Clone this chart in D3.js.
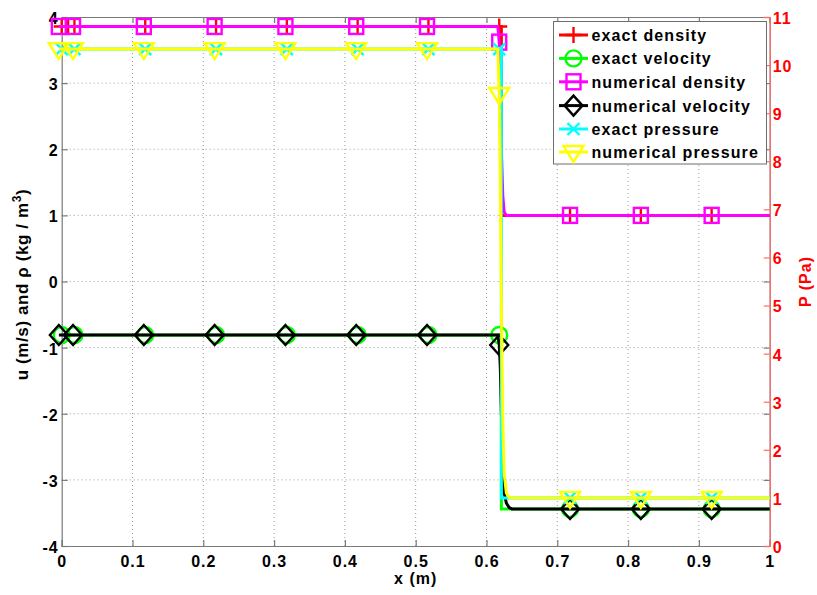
<!DOCTYPE html>
<html>
<head>
<meta charset="utf-8">
<script src="https://cdn.jsdelivr.net/npm/d3@7"></script>
<style>
  html, body { margin: 0; padding: 0; background: #fff; }
  svg { display: block; font-family: "Liberation Sans", Arial, sans-serif; font-weight: bold; }
</style>
</head>
<body>
<svg id="chart" width="817" height="595"></svg>
<script>
// Axis ticks
const xTicks = [0, 0.1, 0.2, 0.3, 0.4, 0.5, 0.6, 0.7, 0.8, 0.9, 1];
const xTickLabels = ["0", "0.1", "0.2", "0.3", "0.4", "0.5", "0.6", "0.7", "0.8", "0.9", "1"];
const yLeftTicks = [-4, -3, -2, -1, 0, 1, 2, 3, 4];
const yRightTicks = [0, 1, 2, 3, 4, 5, 6, 7, 8, 9, 10, 11];

// Exact solution (single shock)
const exactX = [0, 0.621, 0.621, 1];
const exactDensity = [3.857, 3.857, 1.0, 1.0];
const exactVelocity = [-0.81, -0.81, -3.44, -3.44];
const exactPressure = [10.333, 10.333, 1.0, 1.0];

// Numerical solution (shock smeared over a few cells)
const numX = [-0.004, 0.616, 0.618, 0.6195, 0.621, 0.623, 0.625, 0.628, 0.632, 0.636, 1];
const numDensity = [3.857, 3.857, 3.62, 3.0, 2.0, 1.3, 1.05, 1.0, 1.0, 1.0, 1.0];
const numVelocity = [-0.81, -0.81, -0.96, -1.3, -2.0, -2.8, -3.2, -3.35, -3.42, -3.44, -3.44];
const numPressure = [10.333, 10.333, 9.4, 7.5, 5.0, 2.6, 1.5, 1.1, 1.01, 1.0, 1.0];

// Marker locations along x
const exactDensityMarkX = [0, 0.009, 0.018, 0.118, 0.218, 0.318, 0.418, 0.518, 0.618, 0.718, 0.818, 0.918];
const exactMarkX = [0, 0.018, 0.118, 0.218, 0.318, 0.418, 0.518, 0.618, 0.718, 0.818, 0.918];
const numMarkX = [-0.004, 0.016, 0.116, 0.216, 0.316, 0.416, 0.516, 0.618, 0.718, 0.818, 0.918];

const svg = d3.select("#chart");
const M = { left: 61.7, right: 769.7, top: 17, bottom: 546 };

const x = d3.scaleLinear().domain([0, 1]).range([M.left, M.right]);
const yL = d3.scaleLinear().domain([-4, 4]).range([M.bottom, M.top]);
const yR = d3.scaleLinear().domain([0, 11]).range([M.bottom, M.top]);

const axisGray = "#7a7a7a";
const gridGray = "#9a9a9a";

// Grid
const grid = svg.append("g");
xTicks.slice(1, -1).forEach(t => {
  grid.append("line").attr("x1", x(t)).attr("x2", x(t)).attr("y1", M.top).attr("y2", M.bottom)
    .attr("stroke", gridGray).attr("stroke-width", 1).attr("stroke-dasharray", "1,3");
});
yLeftTicks.slice(1, -1).forEach(t => {
  grid.append("line").attr("x1", M.left).attr("x2", M.right).attr("y1", yL(t)).attr("y2", yL(t))
    .attr("stroke", gridGray).attr("stroke-width", 1).attr("stroke-dasharray", "1,3");
});

// Axes
const tickLen = 6;
const bottomAxis = d3.axisBottom(x).tickValues(xTicks).tickSize(-tickLen).tickPadding(10)
  .tickFormat((d, i) => xTickLabels[i]);
const topAxis = d3.axisTop(x).tickValues(xTicks).tickSize(-tickLen).tickFormat("");
const leftAxis = d3.axisLeft(yL).tickValues(yLeftTicks).tickSize(-tickLen).tickPadding(3)
  .tickFormat(d => String(d));
const leftMirror = d3.axisRight(yL).tickValues(yLeftTicks).tickSize(-tickLen).tickFormat("");
const rightAxis = d3.axisRight(yR).tickValues(yRightTicks).tickSize(-tickLen).tickPadding(3)
  .tickFormat(d => String(d));

function styleAxis(g, color, textColor) {
  g.select(".domain").attr("stroke", color).attr("stroke-width", 1.2);
  g.selectAll(".tick line").attr("stroke", color).attr("stroke-width", 1.2);
  g.selectAll(".tick text").attr("fill", textColor).attr("font-size", 16)
    .attr("font-weight", "bold").attr("letter-spacing", 1)
    .attr("font-family", "'Liberation Sans', Arial, sans-serif");
}

svg.append("g").attr("transform", `translate(0,${M.bottom})`).call(bottomAxis)
  .call(g => styleAxis(g, axisGray, "#000"));
svg.append("g").attr("transform", `translate(0,${M.top})`).call(topAxis)
  .call(g => styleAxis(g, axisGray, "#000"));
svg.append("g").attr("transform", `translate(${M.left},0)`).call(leftAxis)
  .call(g => styleAxis(g, axisGray, "#000"))
  .call(g => g.selectAll(".tick text").attr("dy", "0.4em"));
svg.append("g").attr("transform", `translate(${M.right},0)`).call(leftMirror)
  .call(g => styleAxis(g, axisGray, "#000"));
svg.append("g").attr("transform", `translate(${M.right},0)`).call(rightAxis)
  .call(g => styleAxis(g, "#ff6a6a", "#ff0000"))
  .call(g => g.selectAll(".tick text").attr("dy", "0.4em"));

// Axis labels
svg.append("text").attr("x", (M.left + M.right) / 2).attr("y", 584)
  .attr("text-anchor", "middle").attr("font-size", 16).attr("letter-spacing", 1)
  .attr("fill", "#000").text("x (m)");

const yLab = svg.append("text")
  .attr("transform", `translate(28,${(M.top + M.bottom) / 2 + 3}) rotate(-90)`)
  .attr("text-anchor", "middle").attr("font-size", 17).attr("letter-spacing", 0.6)
  .attr("fill", "#000");
yLab.append("tspan").text("u (m/s) and ρ (kg / m");
yLab.append("tspan").attr("font-size", 12).attr("dy", -7).text("3");
yLab.append("tspan").attr("dy", 7).text(")");

svg.append("text")
  .attr("transform", `translate(811,${(M.top + M.bottom) / 2}) rotate(-90)`)
  .attr("text-anchor", "middle").attr("font-size", 16).attr("letter-spacing", 1)
  .attr("fill", "#ff0000").text("P (Pa)");

// Marker drawing
function marker(g, type, color, cx, cy) {
  const sw = 2.4;
  if (type === "plus") {
    g.append("path").attr("d", `M${cx - 8},${cy}H${cx + 8}M${cx},${cy - 8}V${cy + 8}`)
      .attr("stroke", color).attr("stroke-width", sw).attr("fill", "none");
  } else if (type === "circle") {
    g.append("circle").attr("cx", cx).attr("cy", cy).attr("r", 8)
      .attr("stroke", color).attr("stroke-width", sw).attr("fill", "none");
  } else if (type === "square") {
    g.append("rect").attr("x", cx - 7).attr("y", cy - 7.5).attr("width", 14).attr("height", 15)
      .attr("stroke", color).attr("stroke-width", sw).attr("fill", "none");
  } else if (type === "diamond") {
    g.append("path").attr("d", `M${cx},${cy - 10}L${cx + 9},${cy}L${cx},${cy + 10}L${cx - 9},${cy}Z`)
      .attr("stroke", color).attr("stroke-width", sw).attr("fill", "none");
  } else if (type === "x") {
    g.append("path").attr("d", `M${cx - 6},${cy - 6}L${cx + 6},${cy + 6}M${cx - 6},${cy + 6}L${cx + 6},${cy - 6}`)
      .attr("stroke", color).attr("stroke-width", sw).attr("fill", "none");
  } else if (type === "tri") {
    g.append("path").attr("d", `M${cx - 10},${cy - 6}L${cx + 10},${cy - 6}L${cx},${cy + 10}Z`)
      .attr("stroke", color).attr("stroke-width", sw).attr("fill", "none");
  }
}

// Value of a polyline series at a given x
function valueAt(xs, ys, xv) {
  for (let i = 0; i < xs.length - 1; i++) {
    if (xv >= xs[i] && xv <= xs[i + 1]) {
      if (xs[i + 1] === xs[i]) return ys[i];
      const t = (xv - xs[i]) / (xs[i + 1] - xs[i]);
      return ys[i] + t * (ys[i + 1] - ys[i]);
    }
  }
  return xv < xs[0] ? ys[0] : ys[ys.length - 1];
}

const series = [
  { name: "exact density", xs: exactX, ys: exactDensity, y: yL, color: "#ff0000", m: "plus", mx: exactDensityMarkX },
  { name: "exact velocity", xs: exactX, ys: exactVelocity, y: yL, color: "#00ff00", m: "circle", mx: exactMarkX },
  { name: "numerical density", xs: numX, ys: numDensity, y: yL, color: "#ff00ff", m: "square", mx: numMarkX },
  { name: "numerical velocity", xs: numX, ys: numVelocity, y: yL, color: "#000000", m: "diamond", mx: numMarkX },
  { name: "exact pressure", xs: exactX, ys: exactPressure, y: yR, color: "#00ffff", m: "x", mx: exactMarkX },
  { name: "numerical pressure", xs: numX, ys: numPressure, y: yR, color: "#ffff00", m: "tri", mx: numMarkX }
];

const plot = svg.append("g");
series.forEach(s => {
  const line = d3.line().x(d => x(d[0])).y(d => s.y(d[1]));
  plot.append("path").datum(s.xs.map((v, i) => [v, s.ys[i]]))
    .attr("d", line).attr("fill", "none").attr("stroke", s.color).attr("stroke-width", 3);
  const mg = plot.append("g");
  s.mx.forEach(xv => marker(mg, s.m, s.color, x(xv), s.y(valueAt(s.xs, s.ys, xv))));
});

// Legend
const lg = svg.append("g");
lg.append("rect").attr("x", 553.5).attr("y", 21.5).attr("width", 213).attr("height", 142.5)
  .attr("fill", "#fff").attr("stroke", "#6e6e6e").attr("stroke-width", 1);
const rowY = [35, 58.4, 81.8, 105.6, 129, 152];
series.forEach((s, i) => {
  const cy = rowY[i];
  lg.append("line").attr("x1", 559).attr("x2", 588).attr("y1", cy).attr("y2", cy)
    .attr("stroke", s.color).attr("stroke-width", 3);
  marker(lg, s.m, s.color, 573.5, cy);
  lg.append("text").attr("x", 591.5).attr("y", cy + 6).attr("font-size", 16)
    .attr("letter-spacing", 1.1).attr("fill", "#000").text(s.name);
});
</script>
</body>
</html>
